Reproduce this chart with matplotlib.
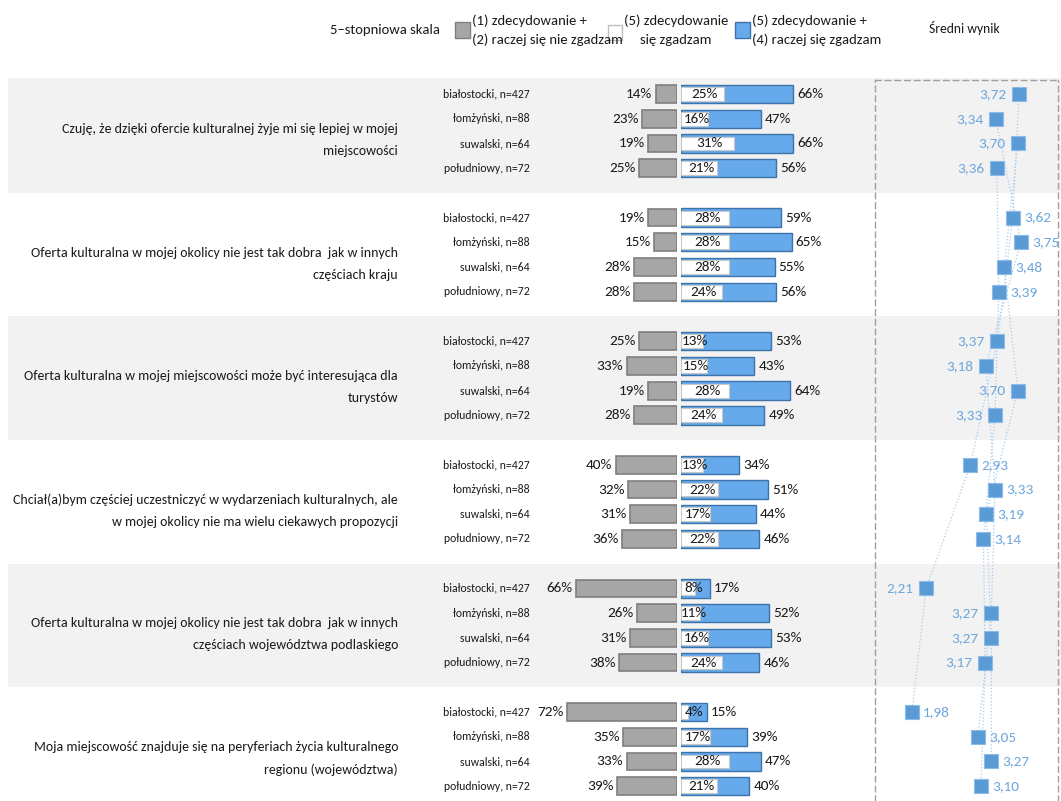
import matplotlib
matplotlib.use('Agg')
import matplotlib.pyplot as plt
from matplotlib import font_manager as fm
from matplotlib.patches import Rectangle
import numpy as np

names = {f.name for f in fm.fontManager.ttflist}
FONT = 'DejaVu Sans'
for cand in ['Carlito', 'Liberation Sans Narrow', 'IBM Plex Sans Condensed', 'Liberation Sans']:
    if cand in names:
        FONT = cand
        break
plt.rcParams['font.family'] = [FONT, 'DejaVu Sans']

# ---------------- data ----------------
statements = [
    "Czuję, że dzięki ofercie kulturalnej żyje mi się lepiej w mojej\nmiejscowości",
    "Oferta kulturalna w mojej okolicy nie jest tak dobra  jak w innych\nczęściach kraju",
    "Oferta kulturalna w mojej miejscowości może być interesująca dla\nturystów",
    "Chciał(a)bym częściej uczestniczyć w wydarzeniach kulturalnych, ale\nw mojej okolicy nie ma wielu ciekawych propozycji",
    "Oferta kulturalna w mojej okolicy nie jest tak dobra  jak w innych\nczęściach województwa podlaskiego",
    "Moja miejscowość znajduje się na peryferiach życia kulturalnego\nregionu (województwa)",
]
regions = ["białostocki, n=427", "łomżyński, n=88", "suwalski, n=64", "południowy, n=72"]

disagree = [
    [14, 23, 19, 25],
    [19, 15, 28, 28],
    [25, 33, 19, 28],
    [40, 32, 31, 36],
    [66, 26, 31, 38],
    [72, 35, 33, 39],
]
strongly_agree = [
    [25, 16, 31, 21],
    [28, 28, 28, 24],
    [13, 15, 28, 24],
    [13, 22, 17, 22],
    [8, 11, 16, 24],
    [4, 17, 28, 21],
]
agree_total = [
    [66, 47, 66, 56],
    [59, 65, 55, 56],
    [53, 43, 64, 49],
    [34, 51, 44, 46],
    [17, 52, 53, 46],
    [15, 39, 47, 40],
]
mean_score = [
    [3.72, 3.34, 3.70, 3.36],
    [3.62, 3.75, 3.48, 3.39],
    [3.37, 3.18, 3.70, 3.33],
    [2.93, 3.33, 3.19, 3.14],
    [2.21, 3.27, 3.27, 3.17],
    [1.98, 3.05, 3.27, 3.10],
]
legend_labels = ["(1) zdecydowanie +\n(2) raczej się nie zgadzam",
                 "(5) zdecydowanie\nsię zgadzam",
                 "(5) zdecydowanie +\n(4) raczej się zgadzam"]
scale_title = "5–stopniowa skala"
score_title = "Średni wynik"

# ---------------- layout ----------------
W, H = 1061, 801
PITCH = 24.72
Y0 = 94.0
GROUP = 5

C_GRAY = '#a6a6a6'
C_GRAY_E = '#7f7f7f'
C_BLUE = '#66aaeb'
C_BLUE_E = '#3d72aa'
C_PT = '#5b9bd5'
C_BAND = '#f2f2f2'
C_TXT = '#1a1a1a'

ng, nr = len(statements), len(regions)
ypos = np.array([[g * GROUP + r for r in range(nr)] for g in range(ng)], dtype=float)
D = np.array(disagree); S = np.array(strongly_agree); A = np.array(agree_total)
M = np.array(mean_score)

def ypx(y):
    return Y0 + PITCH * y

ytop = -Y0 / PITCH
ybot = (H - Y0) / PITCH

fig = plt.figure(figsize=(W / 100, H / 100), dpi=100)

# background / text axes in pixel coordinates
bg = fig.add_axes([0, 0, 1, 1], zorder=0)
bg.set_xlim(0, W); bg.set_ylim(H, 0); bg.axis('off')

for g in range(ng):
    if g % 2 == 0:
        top = ypx(g * GROUP - 1) if g > 0 else 78
        bot = ypx(g * GROUP + 4) if g < ng - 1 else H
        bg.add_patch(Rectangle((8, top), W - 8, bot - top, color=C_BAND, lw=0, zorder=0))
    cy = ypx(g * GROUP + 1.5) + 9
    bg.text(398, cy, statements[g], ha='right', va='center', fontsize=10,
            linespacing=2.0, color=C_TXT)
    for r in range(nr):
        bg.text(530, ypx(ypos[g, r]), regions[r], ha='right', va='center',
                fontsize=8.5, color=C_TXT)

# legend
bg.text(385, 30, scale_title, ha='center', va='center', fontsize=10.5, color=C_TXT)
bg.add_patch(Rectangle((455, 22), 15, 16, facecolor=C_GRAY, edgecolor=C_GRAY_E, lw=1))
bg.text(472, 30, legend_labels[0], ha='left', va='center', fontsize=10.5,
        linespacing=1.65, color=C_TXT)
bg.add_patch(Rectangle((608, 25), 14, 15, facecolor='white', edgecolor='#bfbfbf', lw=1))
bg.text(624, 30, legend_labels[1], ha='left', va='center', fontsize=10.5,
        linespacing=1.65, multialignment='center', color=C_TXT)
bg.add_patch(Rectangle((735, 22), 15, 16, facecolor=C_BLUE, edgecolor=C_BLUE_E, lw=1))
bg.text(752, 30, legend_labels[2], ha='left', va='center', fontsize=10.5,
        linespacing=1.65, color=C_TXT)
bg.text(964, 28, score_title, ha='center', va='center', fontsize=9.8, color=C_TXT)

# left (disagree) bars
L_PX = 1.53
left_end = 677
axL = fig.add_axes([(left_end - 80 * L_PX) / W, 0, 80 * L_PX / W, 1], zorder=1)
axL.set_xlim(80, 0); axL.set_ylim(ybot, ytop); axL.axis('off'); axL.patch.set_alpha(0)
for g in range(ng):
    axL.barh(ypos[g], D[g], height=0.72, color=C_GRAY, edgecolor=C_GRAY_E, lw=1.2)
    for r in range(nr):
        axL.text(D[g, r] + 2.2, ypos[g, r], f"{D[g, r]}%", ha='right', va='center',
                 fontsize=11, color=C_TXT)

# right (agree) bars
R_PX = 1.70
right_start = 681
axR = fig.add_axes([right_start / W, 0, 80 * R_PX / W, 1], zorder=1)
axR.set_xlim(0, 80); axR.set_ylim(ybot, ytop); axR.axis('off'); axR.patch.set_alpha(0)
for g in range(ng):
    axR.barh(ypos[g], A[g], height=0.74, color=C_BLUE, edgecolor=C_BLUE_E, lw=1.0)
    axR.barh(ypos[g], S[g], height=0.56, color='white', edgecolor='#c8c8c8', lw=0.8)
    for r in range(nr):
        axR.text(A[g, r] + 2.5, ypos[g, r], f"{A[g, r]}%", ha='left', va='center',
                 fontsize=11, color=C_TXT)
        axR.text(max(S[g, r] / 2 + 1.5, 7.5), ypos[g, r], f"{S[g, r]}%", ha='center',
                 va='center', fontsize=11, color=C_TXT)

# mean score panel
V_PX = 61.5
V_REF, X_REF = 1.98, 912
x0, x1 = 875, 1058
axS = fig.add_axes([x0 / W, 0, (x1 - x0) / W, (H - 80) / H], zorder=1)
axS.set_xlim(V_REF + (x0 - X_REF) / V_PX, V_REF + (x1 - X_REF) / V_PX)
axS.set_ylim(ybot, (80 - Y0) / PITCH)
axS.patch.set_alpha(0)
axS.set_xticks([]); axS.set_yticks([])
for side in ['left', 'right', 'top']:
    axS.spines[side].set_linestyle((0, (4, 3)))
    axS.spines[side].set_color('#a0a0a0')
    axS.spines[side].set_linewidth(1)
axS.spines['bottom'].set_visible(False)
for r in range(nr):
    axS.plot(M[:, r], ypos[:, r], ls=':', color='#a9cbec', lw=0.9, zorder=1)
for g in range(ng):
    axS.plot(M[g], ypos[g], 's', ms=10.5, mfc=C_PT, mec='#8dbbe8', mew=0.8,
             ls='none', zorder=3)
    left = (g % 2 == 0)
    for r in range(nr):
        axS.annotate(f"{M[g, r]:.2f}".replace('.', ','), (M[g, r], ypos[g, r]),
                     xytext=(-9 if left else 8, 0), textcoords='offset points',
                     ha='right' if left else 'left', va='center',
                     fontsize=11, color='#6ea6dc', zorder=4)

fig.savefig('out.png', dpi=100)
